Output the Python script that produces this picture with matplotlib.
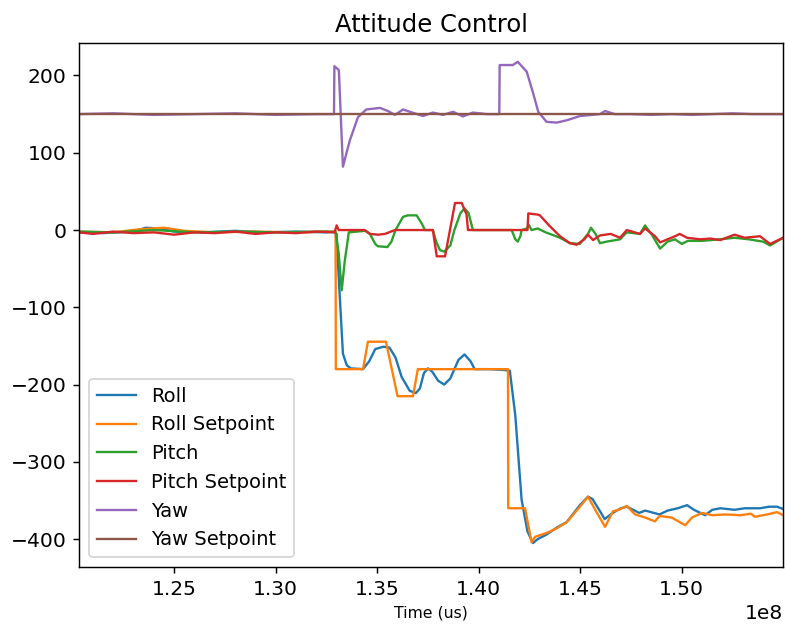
#! /usr/bin/env python

import matplotlib
matplotlib.use('Agg')

import matplotlib.pyplot as plt
import numpy as np

# Flight log samples, time in seconds, angles in degrees
roll_t = [120.31, 121.5, 123.0, 123.6, 124.3, 125.0, 126.5, 128.0, 129.5, 131.0,
          132.5, 132.9, 133.0, 133.1, 133.31, 133.5, 133.7, 134.3, 134.6, 134.9,
          135.3, 135.6, 135.9, 136.2, 136.6, 136.9, 137.1, 137.3, 137.5, 137.7,
          138.0, 138.3, 138.6, 139.0, 139.3, 139.6, 139.8, 140.5, 141.2, 141.53,
          141.8, 142.11, 142.4, 142.67, 142.9, 143.34, 143.84, 144.33, 144.98, 145.38,
          145.6, 146.0, 146.2, 146.6, 147.0, 147.3, 147.9, 148.2, 148.9, 149.3,
          149.8, 150.26, 150.6, 151.15, 151.5, 151.9, 152.6, 153.1, 153.85, 154.3,
          154.7, 154.99]
roll = [-3, -4, -2, 3, 2, -2, -3, -1, -3, -2,
        -3, -2, -5, -60, -160, -175, -179, -180, -170, -154,
        -151, -152, -165, -190, -208, -211, -205, -185, -179, -183,
        -195, -200, -192, -168, -161, -170, -180, -180, -181, -182,
        -240, -349, -390, -405, -400, -394, -385, -378, -356, -345,
        -348, -365, -374, -366, -360, -358, -366, -363, -368, -363,
        -360, -356, -362, -369, -362, -360, -362, -360, -360, -358,
        -358, -361]

roll_sp_t = [120.31, 122.0, 123.3, 124.5, 125.5, 127.0, 129.0, 131.0, 132.8, 132.95,
             132.96, 134.3, 134.54, 135.43, 136.0, 136.76, 137.0, 139.0, 141.0, 141.44,
             141.45, 142.28, 142.6, 142.77, 143.34, 143.84, 144.33, 144.98, 145.38, 145.8,
             146.22, 146.61, 146.9, 147.29, 147.7, 148.19, 148.68, 148.9, 149.5, 150.17,
             150.5, 151.0, 151.5, 152.1, 152.9, 153.4, 153.6, 154.2, 154.69, 154.99]
roll_sp = [-2, -3, 1, 3, -1, -3, -2, -3, -2, -2,
           -180, -180, -144.5, -144.5, -215, -215, -180, -180, -180, -180,
           -360, -360, -404, -397, -392, -386, -378, -358, -345, -365,
           -384, -364, -362, -357, -368, -372, -377, -370, -372, -382,
           -372, -366, -369, -368, -369, -367, -371, -368, -365, -369]

pitch_t = [120.31, 122.0, 124.0, 126.0, 128.0, 130.0, 132.5, 132.95, 133.1, 133.25,
           133.4, 133.6, 134.4, 134.64, 134.9, 135.04, 135.5, 135.7, 135.9, 136.27,
           136.5, 136.94, 137.2, 137.35, 137.74, 137.9, 138.09, 138.3, 138.6, 138.8,
           139.1, 139.3, 139.5, 139.71, 140.5, 141.62, 141.8, 141.92, 142.05, 142.11,
           142.37, 142.47, 142.6, 142.9, 143.3, 144.0, 144.49, 144.98, 145.38, 145.53,
           145.75, 145.97, 146.3, 146.96, 147.29, 147.94, 148.19, 148.5, 148.93, 149.3,
           149.67, 150.0, 150.3, 151.0, 151.89, 152.6, 153.3, 154.0, 154.35, 154.99]
pitch = [-2, -3, 0, -3, -2, -3, -2, -3, -30, -78,
         -40, -3, -1, -5, -18, -21, -22, -15, 0, 17,
         19, 19, 8, 0, 0, -15, -26, -28, -20, 0,
         22, 28, 22, 0, 0, 0, -12, -15, -8, 0,
         2, 6.5, 0, 2, -3, -10, -17, -18, -5, 3,
         -5, -17, -15, -12, -3, -5, 6, -5, -24, -15,
         -12, -18, -14, -14, -12, -10, -12, -15, -20, -10]

pitch_sp_t = [120.31, 121.0, 122.0, 123.0, 124.0, 125.0, 126.0, 127.0, 128.0, 129.0,
              130.0, 131.0, 132.0, 132.9, 133.0, 133.1, 134.39, 134.64, 135.04, 135.38,
              135.87, 137.74, 137.93, 138.34, 138.83, 139.16, 139.4, 139.47, 141.0, 142.40,
              142.44, 142.9, 143.01, 143.5, 144.0, 144.49, 144.82, 145.2, 145.38, 145.63,
              145.97, 146.5, 146.96, 147.29, 147.94, 148.19, 148.68, 148.93, 149.67, 149.9,
              150.26, 150.9, 151.4, 151.89, 152.6, 153.1, 153.85, 154.35, 154.99]
pitch_sp = [-3, -5, -2, -4, -3, -6, -3, -4, -2, -5,
            -3, -4, -2, -3, 6, 0, 0, -5, -6, -5,
            0, 0, -34, -34, 35, 35, 20, 0, 0, 0,
            21.5, 20, 19, 5, -8, -17, -19, -12, -6, -13,
            -7, -5, -10, 0, -5, 2, -8, -16, -8, -5,
            -10, -12, -11, -13, -6, -10, -8, -18, -10]

yaw_t = [120.31, 122.0, 124.0, 126.0, 128.0, 130.0, 132.0, 132.87, 132.89, 133.11,
         133.2, 133.31, 133.65, 134.05, 134.46, 135.13, 135.53, 135.87, 136.27, 136.61,
         137.25, 137.74, 138.24, 138.73, 139.22, 139.71, 140.39, 141.01, 141.03, 141.68,
         141.92, 142.36, 142.68, 142.93, 143.34, 143.84, 144.33, 144.98, 145.97, 146.22,
         146.7, 147.5, 148.5, 149.5, 150.5, 151.5, 152.5, 153.5, 154.99]
yaw = [150, 151, 149, 150, 151, 149, 150, 150, 212, 207,
       150, 82, 116, 146, 156, 158, 154, 149, 156, 153,
       147.5, 152, 149, 153, 147, 152, 150, 150, 213.5, 213.5,
       217.7, 205, 177, 153, 140, 139, 142, 147.5, 150, 154,
       150, 150, 149, 150, 149, 150, 151, 150, 150]

yaw_sp_t = [120.31, 154.99]
yaw_sp = [150, 150]


def to_us(t):
    return np.array(t) * 1e6


def main():
    plt.rcParams['font.size'] = 11.2
    plt.rcParams['lines.linewidth'] = 1.3

    fig = plt.figure(figsize=(785 / 130., 627 / 130.), dpi=130)
    ax = fig.add_axes([0.1006, 0.0957, 0.897, 0.8357])

    ax.plot(to_us(roll_t), roll, label='Roll')
    ax.plot(to_us(roll_sp_t), roll_sp, label='Roll Setpoint')
    ax.plot(to_us(pitch_t), pitch, label='Pitch')
    ax.plot(to_us(pitch_sp_t), pitch_sp, label='Pitch Setpoint')
    ax.plot(to_us(yaw_t), yaw, label='Yaw')
    ax.plot(to_us(yaw_sp_t), yaw_sp, label='Yaw Setpoint')

    ax.set_xlim(1.2031e8, 1.5499e8)
    ax.set_ylim(-436, 242)
    ax.set_title('Attitude Control')
    ax.set_xlabel('Time (us)', fontsize=8.7)
    ax.legend(loc='lower left', fontsize=10.8)

    fig.savefig('out.png', dpi=130)


if __name__ == '__main__':
    main()
